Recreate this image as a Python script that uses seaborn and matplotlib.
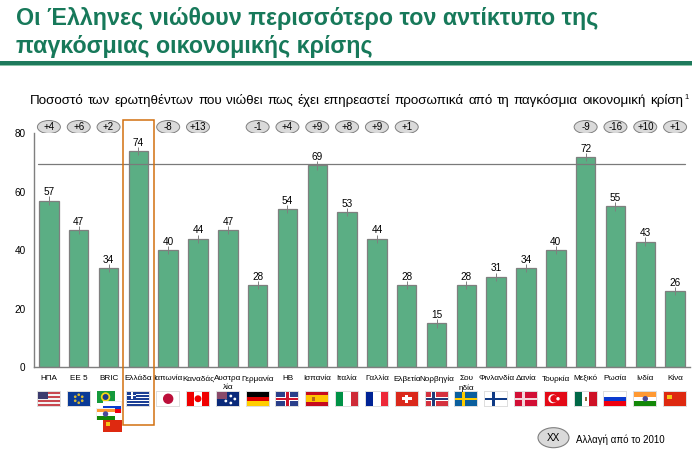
import pandas as pd
import matplotlib
matplotlib.use('Agg')
import matplotlib.pyplot as plt
import matplotlib.patches as mpatches
import seaborn as sns

W, H = 692, 451

countries = ['ΗΠΑ', 'ΕΕ 5', 'BRIC', 'Ελλάδα', 'Ιαπωνία', 'Καναδάς', 'Αυστρα\nλία', 'Γερμανία',
             'ΗΒ', 'Ισπανία', 'Ιταλία', 'Γαλλία', 'Ελβετία', 'Νορβηγία', 'Σου\nηδία', 'Φινλανδία',
             'Δανία', 'Τουρκία', 'Μεξικό', 'Ρωσία', 'Ινδία', 'Κίνα']
values = [57, 47, 34, 74, 40, 44, 47, 28, 54, 69, 53, 44, 28, 15, 28, 31, 34, 40, 72, 55, 43, 26]
changes = ['+4', '+6', '+2', '', '-8', '+13', '', '-1', '+4', '+9', '+8', '+9', '+1', '', '', '',
           '', '', '-9', '-16', '+10', '+1']
ref_line = 69.4
subtitle = ('Ποσοστό των ερωτηθέντων που νιώθει πως έχει επηρεαστεί προσωπικά '
            'από τη παγκόσμια οικονομική κρίση')

df = pd.DataFrame({'country': countries, 'value': values})

sns.set_theme(style='white')
plt.rcParams['font.family'] = ['Liberation Sans', 'DejaVu Sans']

fig = plt.figure(figsize=(W / 100, H / 100), dpi=100, facecolor='white')
ax = fig.add_axes([34 / W, 1 - 367.3 / H, 656 / W, 234 / H])
ax.set_zorder(2)  # labels sit on top of the flags

sns.barplot(data=df, x='country', y='value', color='#5BAE84', saturation=1, width=0.65,
            edgecolor='#7f7f7f', linewidth=0.9, ax=ax)
ax.set_xlim(-0.5, 21.5)
ax.set_ylim(0, 80)
ax.set_xlabel('')
ax.set_ylabel('')
ax.set_yticks([0, 20, 40, 60, 80])
ax.set_xticks([i - 0.5 for i in range(1, 22)])
ax.set_xticklabels([])
ax.tick_params(axis='both', direction='out', length=3, width=0.8, color='#7f7f7f', pad=3)
ax.tick_params(axis='y', labelsize=7.2, labelcolor='black')
for s in ['top', 'right']:
    ax.spines[s].set_visible(False)
for s in ['left', 'bottom']:
    ax.spines[s].set_color('#7f7f7f')
    ax.spines[s].set_linewidth(1.0)
ax.grid(False)

ax.plot([-0.366, 21.33], [ref_line, ref_line], color='#7a7a7a', lw=0.9, zorder=3)

for i, (name, v) in enumerate(zip(countries, values)):
    ax.errorbar(i, v, yerr=1.4, color='#7f7f7f', lw=0.7, zorder=4)
    ax.text(i, v + 2.8, str(v), ha='center', va='center', fontsize=7.2, color='black', zorder=5)
    ax.annotate(name, (i, 0), xytext=(0, -5.8), textcoords='offset points', ha='center', va='top',
                fontsize=5.9, color='black', linespacing=1.4, annotation_clip=False, zorder=8)


def px(x, y):
    return x / W, 1 - y / H


def rect(x, y, w, h, color, **kw):
    fig.add_artist(mpatches.Rectangle(px(x, y + h), w / W, h / H, transform=fig.transFigure,
                                      facecolor=color, edgecolor='none', **kw))


def dot(x, y, d, color):
    fig.add_artist(mpatches.Ellipse(px(x, y), d / W, d / H, transform=fig.transFigure, color=color))


# change pills above the bars
for i, c in enumerate(changes):
    if not c:
        continue
    xc = ax.transData.transform((i, 0))[0]
    fig.add_artist(mpatches.Ellipse(px(xc, 127), 23 / W, 13 / H, transform=fig.transFigure,
                                    facecolor='#DADADA', edgecolor='#808080', lw=0.7))
    fig.text(xc / W, 1 - 127 / H, c, ha='center', va='center', fontsize=7, color='black')

# highlight box round Greece
x_gr = ax.transData.transform((3, 0))[0]
fig.add_artist(mpatches.Rectangle(px(x_gr - 15.2, 424.5), 30.4 / W, 304.5 / H, transform=fig.transFigure,
                                  facecolor='none', edgecolor='#D2700F', lw=1.1, zorder=6))


# flags, drawn from stripes (vertical 'v' or horizontal 'h')
def stripes(x, y, w, h, cols, kind='h'):
    n = len(cols)
    for k, c in enumerate(cols):
        if kind == 'h':
            rect(x, y + k * h / n, w, h / n + 0.3 * (k < n - 1), c)
        else:
            rect(x + k * w / n, y, w / n + 0.3 * (k < n - 1), h, c)


def cross(x, y, w, h, col):
    rect(x + w * 0.3, y, w * 0.14, h, col)
    rect(x, y + h * 0.42, w, h * 0.2, col)


def usa(x, y, w, h):
    stripes(x, y, w, h, ['#C8474F', '#F3F3F3'] * 3 + ['#C8474F'])
    rect(x, y, w * 0.45, h * 0.55, '#3C3B6E')


def greece(x, y, w, h):
    stripes(x, y, w, h, ['#1C3F94', '#FFFFFF'] * 4 + ['#1C3F94'])
    rect(x, y, w * 0.4, h * 0.55, '#1C3F94')
    rect(x + w * 0.16, y, w * 0.08, h * 0.55, '#FFFFFF')
    rect(x, y + h * 0.22, w * 0.4, h * 0.11, '#FFFFFF')


def eu(x, y, w, h):
    rect(x, y, w, h, '#0A3A96')
    for dx, dy in [(0, -4), (3.5, -2), (3.5, 2), (0, 4), (-3.5, 2), (-3.5, -2)]:
        dot(x + w / 2 + dx, y + h / 2 + dy, 1.3, '#D8B830')


def japan(x, y, w, h):
    rect(x, y, w, h, '#FFFFFF')
    dot(x + w / 2, y + h / 2, 9, '#BC0F3A')


def canada(x, y, w, h):
    stripes(x, y, w, h, ['#F00000', '#FFFFFF', '#F00000'], 'v')
    dot(x + w / 2, y + h / 2, 5.5, '#F00000')


def australia(x, y, w, h):
    rect(x, y, w, h, '#0A2A7A')
    rect(x, y, w * 0.45, h * 0.5, '#8A4A6A')
    for dx, dy in [(14, 4), (18, 7), (14, 11), (9, 9)]:
        dot(x + dx, y + dy, 1.4, '#FFFFFF')


def uk(x, y, w, h):
    rect(x, y, w, h, '#2A3F8A')
    rect(x + w * 0.38, y, w * 0.24, h, '#FFFFFF')
    rect(x, y + h * 0.35, w, h * 0.3, '#FFFFFF')
    rect(x + w * 0.44, y, w * 0.12, h, '#CF142B')
    rect(x, y + h * 0.42, w, h * 0.16, '#CF142B')


def spain(x, y, w, h):
    stripes(x, y, w, h, ['#C60B1E', '#FFC400', '#FFC400', '#C60B1E'])
    rect(x + w * 0.25, y + h * 0.35, w * 0.14, h * 0.3, '#B5651D')


def swiss(x, y, w, h):
    rect(x, y, w, h, '#DA291C')
    rect(x + w * 0.42, y + h * 0.2, w * 0.16, h * 0.6, '#FFFFFF')
    rect(x + w * 0.28, y + h * 0.38, w * 0.44, h * 0.24, '#FFFFFF')


def norway(x, y, w, h):
    rect(x, y, w, h, '#D5323F')
    rect(x + w * 0.26, y, w * 0.22, h, '#FFFFFF')
    rect(x, y + h * 0.34, w, h * 0.32, '#FFFFFF')
    rect(x + w * 0.31, y, w * 0.12, h, '#1F3A7A')
    rect(x, y + h * 0.42, w, h * 0.16, '#1F3A7A')


def sweden(x, y, w, h):
    rect(x, y, w, h, '#0B5F9E')
    cross(x, y, w, h, '#FECC00')


def finland(x, y, w, h):
    rect(x, y, w, h, '#FFFFFF')
    cross(x, y, w, h, '#0F3A85')


def denmark(x, y, w, h):
    rect(x, y, w, h, '#D20F35')
    cross(x, y, w, h, '#F3D5DA')


def turkey(x, y, w, h):
    rect(x, y, w, h, '#E30A17')
    dot(x + w * 0.36, y + h / 2, 7.5, '#FFFFFF')
    dot(x + w * 0.42, y + h / 2, 6, '#E30A17')
    dot(x + w * 0.6, y + h / 2, 2, '#FFFFFF')


def mexico(x, y, w, h):
    stripes(x, y, w, h, ['#006847', '#FFFFFF', '#CE1126'], 'v')
    rect(x + w * 0.45, y + h * 0.38, w * 0.1, h * 0.25, '#8A6A3A')


def russia(x, y, w, h):
    stripes(x, y, w, h, ['#FFFFFF', '#0A3ACF', '#F0000F'])


def india(x, y, w, h):
    stripes(x, y, w, h, ['#FF9933', '#FFFFFF', '#138808'])
    dot(x + w / 2, y + h / 2, 4, '#4A4A9A')


def china(x, y, w, h):
    rect(x, y, w, h, '#DE2910')
    rect(x + w * 0.15, y + h * 0.2, w * 0.2, h * 0.3, '#F5C518')


def brazil(x, y, w, h):
    rect(x, y, w, h, '#159A3C')
    dot(x + w / 2, y + h / 2, 8, '#F7D618')
    dot(x + w / 2, y + h / 2, 4.5, '#1A3A8A')


flags = {
    'ΗΠΑ': usa, 'ΕΕ 5': eu, 'Ελλάδα': greece, 'Ιαπωνία': japan, 'Καναδάς': canada,
    'Αυστρα\nλία': australia, 'ΗΒ': uk, 'Ισπανία': spain, 'Ελβετία': swiss, 'Νορβηγία': norway,
    'Σου\nηδία': sweden, 'Φινλανδία': finland, 'Δανία': denmark, 'Τουρκία': turkey,
    'Μεξικό': mexico, 'Ρωσία': russia, 'Ινδία': india, 'Κίνα': china,
    'Γερμανία': lambda x, y, w, h: stripes(x, y, w, h, ['#000000', '#DD0000', '#FFCE00']),
    'Ιταλία': lambda x, y, w, h: stripes(x, y, w, h, ['#009246', '#FFFFFF', '#CE2B37'], 'v'),
    'Γαλλία': lambda x, y, w, h: stripes(x, y, w, h, ['#002395', '#FFFFFF', '#ED2939'], 'v'),
}
fw, fh = 22, 13.5
fy = 392
for i, name in enumerate(countries):
    if name in flags:
        xc = ax.transData.transform((i, 0))[0]
        rect(xc - fw / 2 - 1, fy - 1, fw + 2, fh + 2, '#DEDEDE')
        flags[name](xc - fw / 2, fy, fw, fh)

# BRIC gets a small stack of four flags
xb = ax.transData.transform((2, 0))[0]
brazil(xb - 12, 391, 18, 12)
rect(xb - 6, 401, 19, 12, '#EEEEEE')
russia(xb - 5.5, 402, 18, 11)
rect(xb - 12.5, 408, 19, 12, '#EEEEEE')
india(xb - 12, 408.5, 18, 11)
china(xb - 5.5, 419.5, 19, 12)

# title and rules
fig.text(16.5 / W, 1 - 25.5 / H, 'Οι Έλληνες νιώθουν περισσότερο τον αντίκτυπο της', fontsize=16.75,
         color='#17795A', va='baseline', ha='left', fontweight='bold')
fig.text(16.5 / W, 1 - 53.5 / H, 'παγκόσμιας οικονομικής κρίσης', fontsize=16.75, color='#17795A',
         va='baseline', ha='left', fontweight='bold')
rect(0, 61, W, 3.7, '#1E7A5C')
rect(0, 64.7, W, 1.6, '#8CC4A8')

# subtitle word by word: font sizes snap, so spread the words to the reference's width
renderer = fig.canvas.get_renderer()
words = [fig.text(0, 1 - 104 / H, w, fontsize=9.65, color='black', va='baseline', ha='left')
         for w in subtitle.split()]
widths = [t.get_window_extent(renderer).width for t in words]
gap = (683 - 30 - sum(widths)) / (len(words) - 1)
x = 30
for t, wd in zip(words, widths):
    t.set_x(x / W)
    x += wd + gap
fig.text(684 / W, 1 - 99 / H, '1', fontsize=5.5, color='black', va='baseline', ha='left')

# legend pill
fig.add_artist(mpatches.Ellipse(px(553.5, 437.7), 31 / W, 20 / H, transform=fig.transFigure,
                                facecolor='#DADADA', edgecolor='#7f7f7f', lw=0.8))
fig.text(553.5 / W, 1 - 437.7 / H, 'XX', ha='center', va='center', fontsize=7.2, color='black')
fig.text(576 / W, 1 - 439.5 / H, 'Αλλαγή από το 2010', ha='left', va='center', fontsize=7, color='black')

fig.savefig('out.png', dpi=100)
